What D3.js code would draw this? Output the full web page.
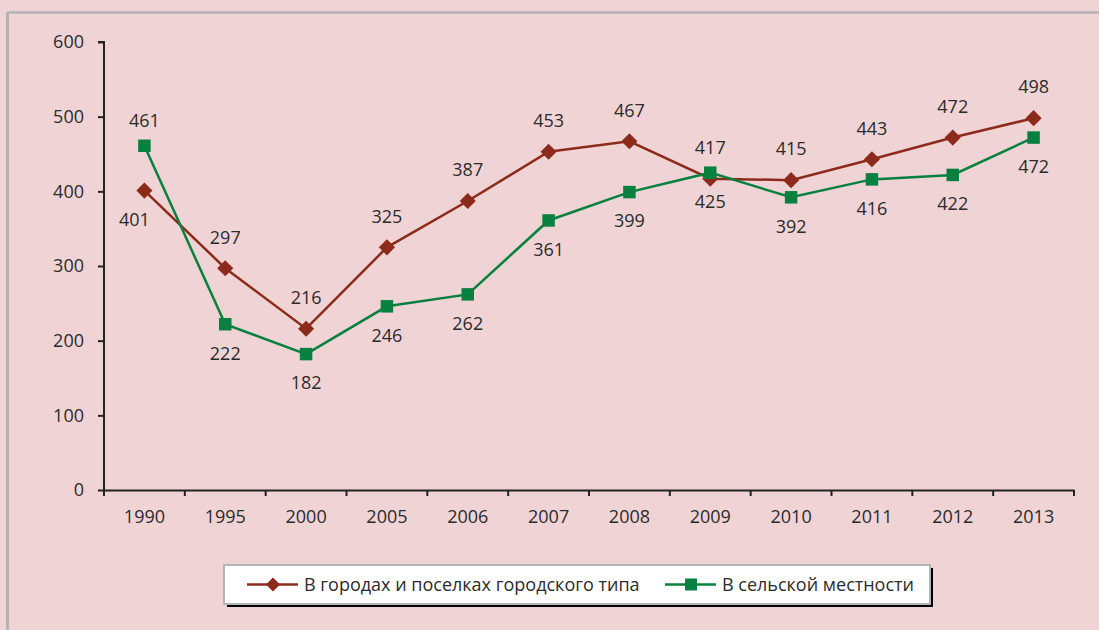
<!DOCTYPE html>
<html>
<head>
<meta charset="utf-8">
<script src="https://cdn.jsdelivr.net/npm/d3@7"></script>
<style>
  body { margin: 0; background: #f0d4d5; }
  svg { display: block; font-family: "Open Sans", "Liberation Sans", sans-serif; }
</style>
</head>
<body>
<svg id="chart"></svg>
<script>
const years = ["1990", "1995", "2000", "2005", "2006", "2007", "2008", "2009", "2010", "2011", "2012", "2013"];
const urban = [401, 297, 216, 325, 387, 453, 467, 417, 415, 443, 472, 498];
const rural = [461, 222, 182, 246, 262, 361, 399, 425, 392, 416, 422, 472];
// label side per point: -1 above, 1 below
const urbanSide = [1, -1, -1, -1, -1, -1, -1, -1, -1, -1, -1, -1];
const ruralSide = [-1, 1, 1, 1, 1, 1, 1, 1, 1, 1, 1, 1];
const yTicks = [0, 100, 200, 300, 400, 500, 600];
const seriesNames = ["В городах и поселках городского типа", "В сельской местности"];

const width = 1099, height = 630;
const RED = "#8c2b1b", GREEN = "#078040";
const FONT = "18px";
const DIAMOND_SIZE = 130, SQUARE_SIZE = 156;

const svg = d3.select("#chart").attr("width", width).attr("height", height);

// outer frame (top + left only visible)
svg.append("rect").attr("width", width).attr("height", height).attr("fill", "#f0d4d5");
svg.append("line").attr("x1", 7).attr("x2", width).attr("y1", 12.5).attr("y2", 12.5)
    .attr("stroke", "#b4b4b6").attr("stroke-width", 2.5);
svg.append("line").attr("x1", 7.5).attr("x2", 7.5).attr("y1", 12).attr("y2", height)
    .attr("stroke", "#b4b4b6").attr("stroke-width", 3);

const x = d3.scaleBand().domain(years).range([104, 1074]);
const y = d3.scaleLinear().domain([0, 600]).range([490, 42]);

const g = svg.append("g");

// y axis
const yAxis = g.append("g").attr("transform", "translate(104,0)")
    .call(d3.axisLeft(y).tickValues(yTicks).tickSize(6).tickPadding(14));
// x axis
const xAxis = g.append("g").attr("transform", "translate(0,490)")
    .call(d3.axisBottom(x).tickSize(0).tickPadding(20));
xAxis.selectAll(".tick line").remove();
xAxis.selectAll(".bt").data(d3.range(years.length + 1)).enter().append("line")
    .attr("x1", i => 104 + i * x.step()).attr("x2", i => 104 + i * x.step())
    .attr("y1", 0).attr("y2", 6).attr("stroke", "#222").attr("stroke-width", 2);

[yAxis, xAxis].forEach(a => {
    a.select(".domain").attr("stroke", "#222").attr("stroke-width", 2);
    a.selectAll(".tick line").attr("stroke", "#222").attr("stroke-width", 2);
    a.selectAll("text").attr("fill", "#2b2b2b").style("font-size", FONT)
        .style("font-family", "'Open Sans', 'Liberation Sans', sans-serif");
});
yAxis.select(".domain").attr("d", "M-6,42H0V490");

const cx = d => x(d) + x.bandwidth() / 2;

function drawSeries(vals, sides, color, shape, above) {
    const pts = years.map((yr, i) => ({yr, v: vals[i], side: sides[i]}));
    g.append("path").datum(pts)
        .attr("fill", "none").attr("stroke", color).attr("stroke-width", 2.5)
        .attr("d", d3.line().x(d => cx(d.yr)).y(d => y(d.v)));
    const sym = d3.symbol().type(d3.symbolSquare).size(shape === "diamond" ? DIAMOND_SIZE : SQUARE_SIZE);
    g.selectAll(null).data(pts).enter().append("path")
        .attr("d", sym)
        .attr("fill", color)
        .attr("transform", d => `translate(${cx(d.yr)},${y(d.v)})` + (shape === "diamond" ? " rotate(45)" : ""));
    g.selectAll(null).data(pts).enter().append("text")
        .attr("x", d => cx(d.yr) - (d.yr === "1990" && d.side > 0 ? 10 : 0))
        .attr("y", d => y(d.v) + (d.side < 0 ? above : 29))
        .attr("dy", "0.35em")
        .attr("text-anchor", "middle")
        .attr("fill", "#2b2b2b").style("font-size", FONT)
        .text(d => d.v);
}

drawSeries(urban, urbanSide, RED, "diamond", -31);
drawSeries(rural, ruralSide, GREEN, "square", -25);

// legend
const lg = svg.append("g");
lg.append("rect").attr("x", 227).attr("y", 568).attr("width", 706).attr("height", 39).attr("fill", "#000");
lg.append("rect").attr("x", 224).attr("y", 565).attr("width", 706).attr("height", 39)
    .attr("fill", "#fff").attr("stroke", "#b4b4b6").attr("stroke-width", 2);

const legendItems = [
    {name: seriesNames[0], color: RED, shape: "diamond", x0: 247},
    {name: seriesNames[1], color: GREEN, shape: "square", x0: 665}
];
legendItems.forEach(it => {
    lg.append("line").attr("x1", it.x0).attr("x2", it.x0 + 51).attr("y1", 584.5).attr("y2", 584.5)
        .attr("stroke", it.color).attr("stroke-width", 2.5);
    lg.append("path")
        .attr("d", d3.symbol().type(d3.symbolSquare).size(it.shape === "diamond" ? 100 : 144))
        .attr("fill", it.color)
        .attr("transform", `translate(${it.x0 + 26},584.5)` + (it.shape === "diamond" ? " rotate(45)" : ""));
    lg.append("text").attr("x", it.x0 + 57).attr("y", 584.5).attr("dy", "0.35em")
        .attr("fill", "#2b2b2b").style("font-size", FONT).text(it.name);
});
</script>
</body>
</html>
